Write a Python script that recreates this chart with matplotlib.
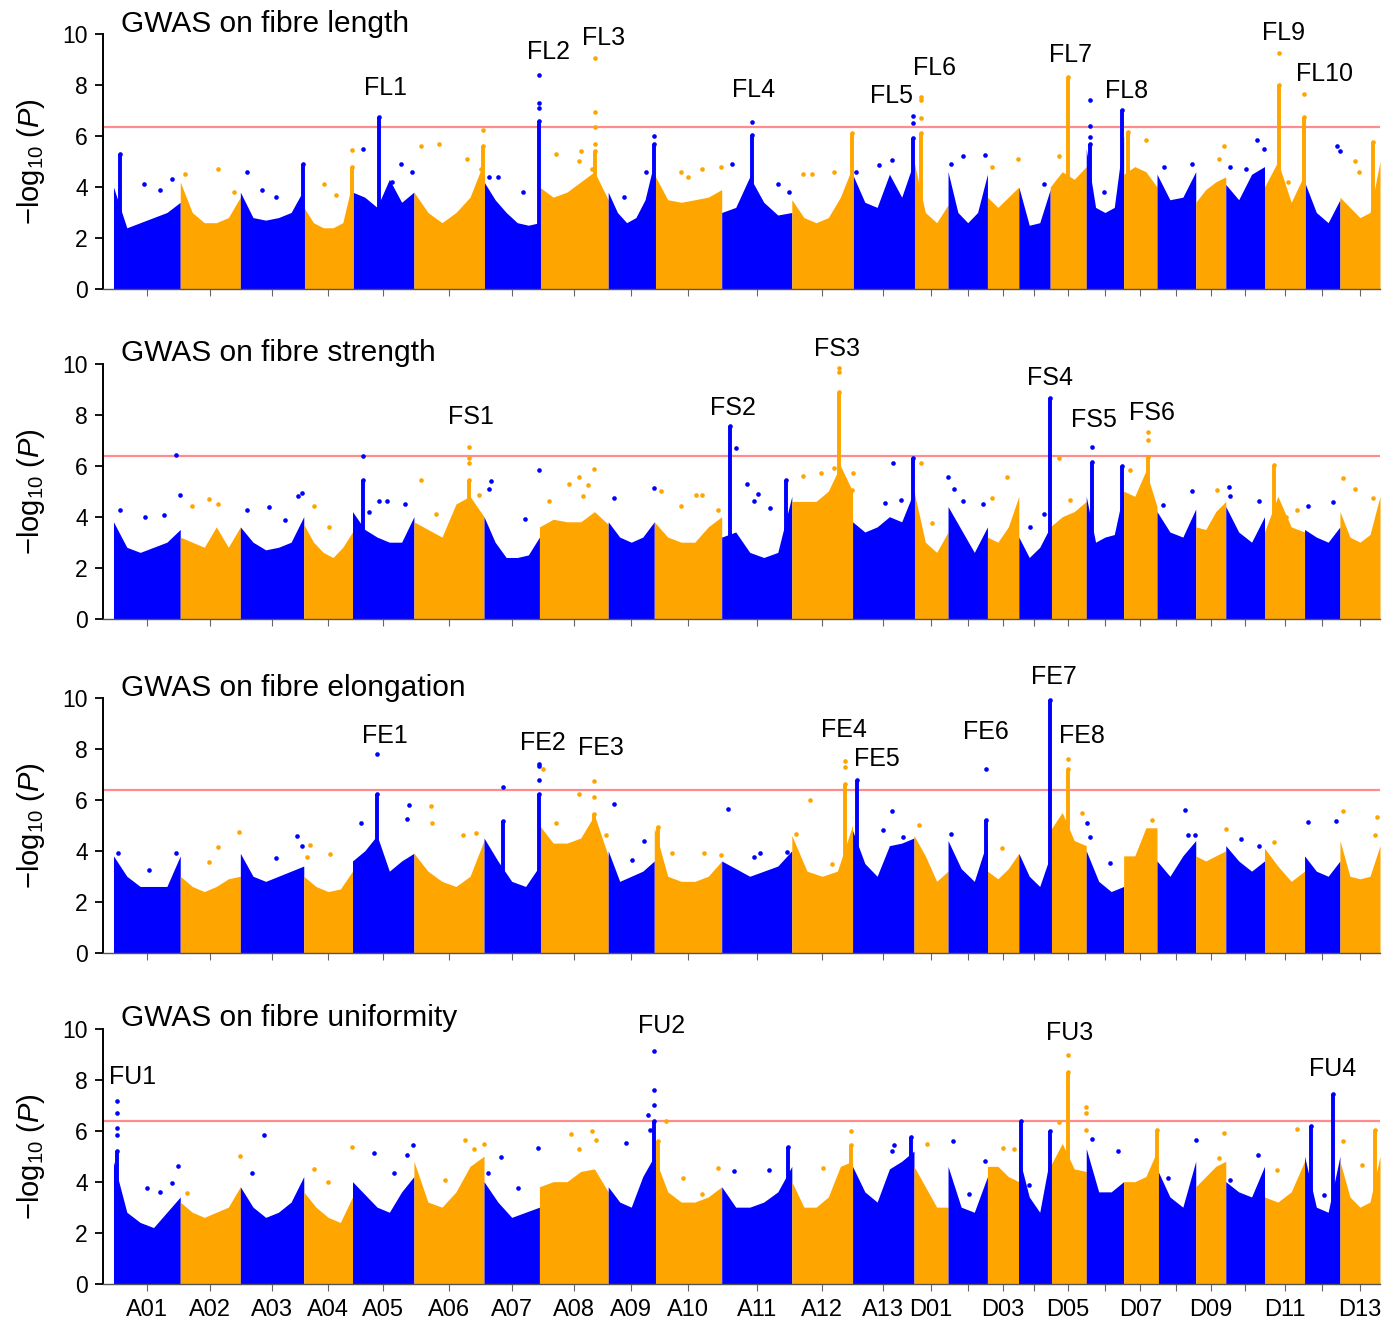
import numpy as np
import matplotlib.pyplot as plt

plt.rcParams["font.family"] = ["Liberation Sans", "DejaVu Sans"]
plt.rcParams["mathtext.fontset"] = "custom"
plt.rcParams["mathtext.rm"] = "Liberation Sans"
plt.rcParams["mathtext.it"] = "Liberation Sans:italic"

BLUE = "#0000FF"
ORANGE = "#FFA500"
THRESHOLD = 6.37

CHROMS = ["A01", "A02", "A03", "A04", "A05", "A06", "A07", "A08", "A09", "A10", "A11", "A12", "A13",
          "D01", "D02", "D03", "D04", "D05", "D06", "D07", "D08", "D09", "D10", "D11", "D12", "D13"]
# chromosome length, Mb
CHROM_LEN = [100, 90, 95, 73, 92, 105, 83, 103, 69, 101, 105, 91, 92,
             51, 59, 47, 47, 54, 56, 50, 58, 45, 58, 60, 53, 60]
TICK_LABELS = ["A01", "A02", "A03", "A04", "A05", "A06", "A07", "A08", "A09", "A10", "A11", "A12", "A13",
               "D01", "", "D03", "", "D05", "", "D07", "", "D09", "", "D11", "", "D13"]

# ---- fibre length ----
# upper edge of the dense SNP cloud, sampled evenly along each chromosome
FL_ENV = [[4.0, 2.4, 2.6, 2.8, 3.0, 3.4], [4.2, 3.0, 2.6, 2.6, 2.8, 3.6], [3.8, 2.8, 2.7, 2.8, 3.0, 3.9],
          [3.2, 2.6, 2.4, 2.4, 2.6, 4.2], [3.8, 3.6, 3.2, 4.3, 3.4, 3.8], [3.8, 3.0, 2.6, 3.0, 3.6, 5.0],
          [4.2, 3.5, 3.0, 2.6, 2.5, 2.6], [4.0, 3.6, 3.8, 4.2, 4.6, 3.5], [3.8, 3.0, 2.6, 2.8, 3.5, 5.0],
          [4.5, 3.5, 3.4, 3.5, 3.6, 3.9], [3.0, 3.2, 4.4, 3.4, 2.9, 3.0], [3.5, 2.8, 2.6, 2.8, 3.6, 4.8],
          [4.5, 3.4, 3.2, 4.5, 3.6, 5.0],
          [5.0, 3.0, 2.6, 3.3], [4.6, 3.0, 2.6, 3.0, 4.5], [3.6, 3.2, 3.6, 4.0], [4.0, 2.5, 2.6, 3.9],
          [4.0, 4.6, 4.3, 4.8], [5.5, 3.2, 3.0, 3.2, 6.0], [4.5, 4.8, 4.6, 4.0], [4.5, 3.5, 3.6, 4.6],
          [3.4, 3.9, 4.2, 4.4], [4.1, 3.5, 4.5, 4.8], [4.0, 5.0, 3.4, 4.5], [4.2, 3.0, 2.6, 3.5],
          [3.6, 3.2, 2.8, 3.0, 5.0]]
# (chromosome, position Mb, column top)
FL_SPIKES = [("A01", 10, 5.3), ("A03", 94, 4.9), ("A04", 72, 4.8), ("A05", 39, 6.73), ("A06", 104, 5.6),
             ("A07", 82, 6.6), ("A08", 83, 5.4), ("A09", 69, 5.7), ("A11", 45, 6.03), ("A12", 90, 6.1),
             ("A13", 91, 5.94), ("D01", 10, 6.1), ("D05", 27, 8.33), ("D06", 6, 5.7), ("D06", 53, 7.0),
             ("D07", 7, 6.16), ("D11", 22, 8.0), ("D11", 59, 6.75), ("D13", 49, 5.77)]
FL_POINTS = [("A01", 45, 4.1), ("A01", 70, 3.9), ("A01", 87, 4.3), ("A02", 7, 4.5), ("A02", 57, 4.7),
             ("A02", 80, 3.8), ("A03", 10, 4.6), ("A03", 33, 3.9), ("A03", 53, 3.6), ("A04", 31, 4.1),
             ("A04", 48, 3.7), ("A04", 72, 5.45), ("A05", 15, 5.5), ("A05", 59, 4.2), ("A05", 72, 4.9),
             ("A05", 89, 4.6), ("A06", 10, 5.6), ("A06", 37, 5.7), ("A06", 80, 5.1), ("A06", 100, 4.7),
             ("A06", 104, 6.25), ("A07", 8, 4.4), ("A07", 21, 4.4), ("A07", 58, 3.8), ("A07", 82, 7.1),
             ("A07", 82, 7.3), ("A07", 82, 8.39), ("A08", 25, 5.3), ("A08", 59, 5.0), ("A08", 62, 5.4),
             ("A08", 79, 4.7), ("A08", 83, 5.7), ("A08", 83, 6.36), ("A08", 83, 6.95), ("A08", 83, 9.05),
             ("A09", 23, 3.6), ("A09", 57, 4.6), ("A09", 69, 6.0), ("A10", 40, 4.6), ("A10", 50, 4.4),
             ("A10", 72, 4.7), ("A10", 100, 4.8), ("A11", 15, 4.9), ("A11", 45, 6.56), ("A11", 85, 4.1),
             ("A11", 101, 3.8), ("A12", 17, 4.5), ("A12", 30, 4.5), ("A12", 63, 4.6), ("A13", 5, 4.6),
             ("A13", 39, 4.85), ("A13", 59, 5.05), ("A13", 91, 6.52), ("A13", 91, 6.78), ("D01", 10, 6.69),
             ("D01", 10, 7.43), ("D01", 10, 7.54), ("D02", 5, 4.9), ("D02", 22, 5.2), ("D02", 55, 5.25),
             ("D03", 7, 4.8), ("D03", 46, 5.1), ("D04", 37, 4.1), ("D05", 13, 5.2), ("D06", 6, 5.97),
             ("D06", 6, 6.39), ("D06", 6, 7.43), ("D06", 26, 3.8), ("D07", 33, 5.85), ("D08", 10, 4.8),
             ("D08", 53, 4.9), ("D09", 35, 5.1), ("D09", 42, 5.6), ("D10", 7, 4.8), ("D10", 30, 4.7),
             ("D10", 47, 5.85), ("D10", 58, 5.5), ("D11", 22, 9.27), ("D11", 35, 4.2), ("D11", 59, 7.63),
             ("D12", 49, 5.6), ("D12", 53, 5.4), ("D13", 22, 5.0), ("D13", 29, 4.6)]
FL_LABELS = ["FL1", "FL2", "FL3", "FL4", "FL5", "FL6", "FL7", "FL8", "FL9", "FL10"]
FL_LABEL_X = [407, 652, 734, 959, 1165, 1229, 1433, 1517, 1753, 1814]
FL_LABEL_Y = [7.9, 9.3, 9.85, 7.8, 7.57, 8.67, 9.18, 7.76, 10.04, 8.43]

# ---- fibre strength ----
FS_ENV = [[3.8, 2.8, 2.6, 2.8, 3.0, 3.5], [3.2, 3.0, 2.8, 3.6, 2.8, 3.6], [3.6, 3.0, 2.7, 2.8, 3.0, 4.0],
          [3.7, 3.0, 2.6, 2.4, 2.8, 3.4], [4.2, 3.5, 3.2, 3.0, 3.0, 4.0], [3.8, 3.5, 3.2, 4.5, 4.8, 4.0],
          [4.0, 3.0, 2.4, 2.4, 2.5, 3.2], [3.6, 3.9, 3.8, 3.8, 4.2, 3.7], [3.8, 3.2, 3.0, 3.2, 3.8],
          [3.8, 3.2, 3.0, 3.0, 3.6, 4.0], [3.2, 3.4, 2.6, 2.4, 2.6, 4.8], [4.6, 4.6, 4.6, 5.0, 6.0, 5.0],
          [3.8, 3.4, 3.6, 4.0, 3.8, 5.0],
          [5.0, 3.0, 2.6, 3.4], [4.4, 3.5, 2.6, 3.6], [3.2, 3.0, 3.6, 4.8], [3.2, 2.4, 2.8, 3.6],
          [3.6, 4.0, 4.2, 4.6], [4.8, 3.0, 3.2, 3.3, 5.0], [5.0, 4.8, 5.8, 4.4], [4.2, 3.4, 3.2, 4.3],
          [3.6, 3.5, 4.2, 4.6], [4.4, 3.4, 3.0, 4.0], [3.4, 4.8, 3.6, 3.4], [3.5, 3.2, 3.0, 3.6],
          [4.2, 3.2, 3.0, 3.3, 4.8]]
FS_SPIKES = [("A05", 15, 5.45), ("A06", 82, 5.45), ("A11", 13, 7.54), ("A11", 96, 5.45), ("A12", 70, 8.9),
             ("A13", 91, 6.3), ("D04", 47, 8.65), ("D06", 8, 6.16), ("D06", 53, 5.97), ("D07", 37, 6.36),
             ("D11", 14, 6.03)]
FS_POINTS = [("A01", 10, 4.27), ("A01", 47, 4.0), ("A01", 75, 4.07), ("A01", 93, 6.43), ("A01", 99, 4.86),
             ("A02", 17, 4.4), ("A02", 43, 4.7), ("A02", 57, 4.5), ("A03", 10, 4.27), ("A03", 43, 4.37),
             ("A03", 67, 3.87), ("A03", 87, 4.8), ("A03", 93, 4.92), ("A04", 15, 4.4), ("A04", 38, 3.6),
             ("A05", 15, 6.39), ("A05", 25, 4.2), ("A05", 39, 4.6), ("A05", 52, 4.6), ("A05", 79, 4.5),
             ("A06", 10, 5.45), ("A06", 33, 4.1), ("A06", 82, 6.1), ("A06", 82, 6.3), ("A06", 82, 6.73),
             ("A06", 97, 4.86), ("A07", 8, 5.1), ("A07", 11, 5.4), ("A07", 61, 3.9), ("A07", 82, 5.84),
             ("A08", 15, 4.6), ("A08", 45, 5.3), ("A08", 59, 5.57), ("A08", 65, 4.8), ("A08", 72, 5.25),
             ("A08", 82, 5.86), ("A09", 8, 4.72), ("A09", 69, 5.12), ("A10", 10, 5.0), ("A10", 40, 4.4),
             ("A10", 63, 4.86), ("A10", 72, 4.86), ("A10", 95, 4.27), ("A11", 21, 6.7), ("A11", 38, 5.3),
             ("A11", 48, 4.6), ("A11", 55, 4.9), ("A11", 73, 4.36), ("A12", 17, 5.6), ("A12", 43, 5.7),
             ("A12", 63, 5.9), ("A12", 70, 9.66), ("A12", 70, 9.83), ("A12", 90, 5.05), ("A12", 91, 5.7),
             ("A13", 49, 4.55), ("A13", 60, 6.12), ("A13", 72, 4.66), ("D01", 10, 6.1), ("D01", 27, 3.75),
             ("D02", 0, 5.57), ("D02", 9, 5.1), ("D02", 22, 4.6), ("D02", 52, 4.5), ("D03", 7, 4.72),
             ("D03", 30, 5.57), ("D04", 17, 3.6), ("D04", 37, 4.1), ("D05", 13, 6.3), ("D05", 30, 4.66),
             ("D05", 47, 4.3), ("D06", 8, 6.75), ("D07", 10, 5.84), ("D07", 37, 7.0), ("D07", 37, 7.34),
             ("D08", 9, 4.46), ("D08", 53, 4.99), ("D09", 32, 5.05), ("D10", 5, 5.16), ("D10", 7, 4.8),
             ("D10", 50, 4.6), ("D11", 32, 4.0), ("D11", 49, 4.27), ("D12", 5, 4.4), ("D12", 42, 4.57),
             ("D13", 4, 5.5), ("D13", 22, 5.08), ("D13", 50, 4.72)]
FS_LABELS = ["FS1", "FS2", "FS3", "FS4", "FS5", "FS6"]
FS_LABEL_X = [535, 928, 1084, 1403, 1469, 1556]
FS_LABEL_Y = [7.92, 8.27, 10.59, 9.45, 7.8, 8.08]

# ---- fibre elongation ----
FE_ENV = [[3.8, 3.0, 2.6, 2.6, 2.6, 3.8], [3.0, 2.6, 2.4, 2.6, 2.9, 3.0], [3.9, 3.0, 2.8, 3.0, 3.2, 3.4],
          [3.0, 2.6, 2.4, 2.5, 3.2], [3.6, 4.0, 4.6, 3.2, 3.6, 3.9], [3.9, 3.2, 2.8, 2.6, 3.0, 4.4],
          [4.5, 3.6, 2.8, 2.6, 3.4], [5.0, 4.3, 4.3, 4.5, 5.4, 3.8], [4.0, 2.8, 3.0, 3.2, 3.6],
          [4.9, 3.0, 2.8, 2.8, 3.0, 3.6], [3.6, 3.3, 3.0, 3.2, 3.4, 4.0], [4.6, 3.2, 3.0, 3.2, 5.0],
          [4.8, 3.5, 3.0, 4.2, 4.3, 4.5],
          [4.6, 3.8, 2.8, 3.2], [4.4, 3.3, 2.8, 4.4], [3.2, 2.9, 3.3, 3.9], [3.9, 3.0, 2.6, 3.8],
          [4.8, 5.5, 4.4, 4.2], [4.0, 2.8, 2.4, 2.6], [3.8, 3.8, 4.9, 4.9], [3.6, 3.0, 3.8, 4.4],
          [3.8, 3.6, 3.8, 4.0], [4.2, 3.6, 3.2, 3.6], [4.1, 3.4, 2.8, 3.2], [3.8, 3.2, 3.0, 3.6],
          [4.4, 3.0, 2.9, 3.0, 4.2]]
FE_SPIKES = [("A05", 37, 6.24), ("A07", 28, 5.17), ("A07", 83, 6.24), ("A08", 82, 5.46), ("A10", 5, 4.93),
             ("A12", 80, 6.63), ("A13", 7, 6.76), ("D02", 57, 5.22), ("D04", 47, 9.9), ("D05", 27, 7.22)]
FE_POINTS = [("A01", 7, 3.9), ("A01", 53, 3.26), ("A01", 93, 3.9), ("A02", 43, 3.56), ("A02", 57, 4.15),
             ("A02", 88, 4.74), ("A03", 53, 3.7), ("A03", 85, 4.57), ("A03", 93, 4.2), ("A04", 5, 3.76),
             ("A04", 10, 4.24), ("A04", 39, 3.86), ("A05", 12, 5.1), ("A05", 37, 7.81), ("A05", 82, 5.26),
             ("A05", 85, 5.8), ("A06", 25, 5.76), ("A06", 27, 5.1), ("A06", 73, 4.6), ("A06", 93, 4.7),
             ("A07", 28, 6.5), ("A07", 83, 6.76), ("A07", 83, 7.31), ("A07", 83, 7.42), ("A08", 5, 7.22),
             ("A08", 25, 5.07), ("A08", 59, 6.24), ("A08", 82, 6.1), ("A08", 82, 6.74), ("A08", 99, 4.6),
             ("A09", 8, 5.82), ("A09", 36, 3.65), ("A09", 53, 4.39), ("A10", 27, 3.9), ("A10", 75, 3.9),
             ("A10", 100, 3.82), ("A11", 9, 5.64), ("A11", 48, 3.76), ("A11", 58, 3.9), ("A11", 98, 3.96),
             ("A12", 7, 4.67), ("A12", 27, 5.98), ("A12", 60, 3.5), ("A12", 80, 7.28), ("A12", 80, 7.52),
             ("A13", 45, 4.8), ("A13", 59, 5.56), ("A13", 75, 4.54), ("D01", 7, 5.0), ("D02", 4, 4.65),
             ("D02", 57, 7.19), ("D03", 22, 4.09), ("D05", 13, 5.13), ("D05", 27, 7.6), ("D05", 47, 5.48),
             ("D06", 1, 5.07), ("D06", 6, 4.54), ("D06", 36, 3.52), ("D07", 43, 5.22), ("D08", 42, 5.59),
             ("D08", 47, 4.6), ("D08", 57, 4.6), ("D09", 45, 4.87), ("D10", 23, 4.48), ("D10", 50, 4.2),
             ("D11", 14, 4.35), ("D12", 5, 5.13), ("D12", 47, 5.17), ("D13", 5, 5.56), ("D13", 52, 4.6),
             ("D13", 56, 5.33)]
FE_LABELS = ["FE1", "FE2", "FE3", "FE4", "FE5", "FE6", "FE7", "FE8"]
FE_LABEL_X = [407, 643, 730, 1094, 1144, 1307, 1408, 1450]
FE_LABEL_Y = [8.5, 8.24, 8.04, 8.75, 7.6, 8.67, 10.82, 8.5]

# ---- fibre uniformity ----
FU_ENV = [[4.8, 2.8, 2.4, 2.2, 2.8, 3.4], [3.2, 2.8, 2.6, 2.8, 3.0, 3.8], [3.8, 3.0, 2.6, 2.8, 3.2, 4.2],
          [3.6, 3.0, 2.6, 2.4, 3.4], [4.0, 3.5, 3.0, 2.8, 3.6, 4.2], [4.8, 3.2, 3.0, 3.6, 4.6, 5.0],
          [4.0, 3.2, 2.6, 2.8, 3.0], [3.8, 4.0, 4.0, 4.4, 4.5, 3.6], [3.8, 3.2, 3.0, 4.2, 5.0],
          [5.0, 3.6, 3.2, 3.2, 3.4, 3.8], [3.8, 3.0, 3.0, 3.2, 3.6, 4.6], [4.0, 3.0, 3.0, 3.4, 4.6, 4.8],
          [4.6, 3.6, 3.2, 4.5, 4.8, 5.2],
          [4.6, 3.8, 3.0, 3.0], [4.6, 3.0, 2.8, 4.2], [4.6, 4.6, 4.2, 4.0], [5.0, 3.4, 2.8, 5.0],
          [4.6, 5.5, 4.5, 4.4], [5.3, 3.6, 3.6, 4.0], [4.0, 4.0, 4.2, 5.2], [4.5, 3.4, 3.0, 4.8],
          [3.8, 4.2, 4.6, 4.8], [4.0, 3.6, 3.4, 4.6], [3.4, 3.2, 3.6, 4.8], [5.0, 3.0, 2.8, 5.0],
          [4.8, 3.4, 3.0, 3.2, 5.0]]
FU_SPIKES = [("A01", 5, 5.2), ("A09", 69, 6.36), ("A10", 5, 5.58), ("A11", 99, 5.34), ("A12", 89, 5.44),
             ("A13", 87, 5.77), ("D04", 3, 6.36), ("D04", 47, 5.97), ("D05", 27, 8.3), ("D07", 50, 6.03),
             ("D12", 9, 6.19), ("D12", 42, 7.43), ("D13", 52, 6.03)]
FU_POINTS = [("A01", 5, 5.84), ("A01", 5, 6.1), ("A01", 5, 6.69), ("A01", 5, 7.17), ("A01", 50, 3.77),
             ("A01", 70, 3.6), ("A01", 87, 3.94), ("A01", 97, 4.6), ("A02", 10, 3.55), ("A02", 90, 4.99),
             ("A03", 17, 4.33), ("A03", 35, 5.81), ("A04", 15, 4.5), ("A04", 37, 3.98), ("A04", 72, 5.35),
             ("A05", 32, 5.12), ("A05", 62, 4.33), ("A05", 82, 5.05), ("A05", 91, 5.44), ("A06", 47, 4.07),
             ("A06", 77, 5.64), ("A06", 90, 5.29), ("A06", 105, 5.47), ("A07", 6, 4.33), ("A07", 25, 4.95),
             ("A07", 51, 3.77), ("A07", 81, 5.31), ("A08", 47, 5.86), ("A08", 59, 5.29), ("A08", 79, 5.97),
             ("A08", 85, 5.64), ("A09", 26, 5.51), ("A09", 59, 6.62), ("A09", 63, 6.03), ("A09", 69, 7.0),
             ("A09", 69, 7.6), ("A09", 69, 9.14), ("A10", 17, 6.39), ("A10", 43, 4.13), ("A10", 72, 3.5),
             ("A10", 95, 4.53), ("A11", 18, 4.4), ("A11", 71, 4.46), ("A12", 47, 4.53), ("A12", 89, 5.97),
             ("A13", 59, 5.21), ("A13", 62, 5.44), ("D01", 20, 5.47), ("D02", 7, 5.58), ("D02", 32, 3.5),
             ("D02", 55, 4.82), ("D03", 23, 5.31), ("D03", 40, 5.29), ("D04", 15, 3.87), ("D05", 13, 6.32),
             ("D05", 27, 8.98), ("D05", 54, 6.91), ("D05", 54, 6.69), ("D05", 54, 6.03), ("D06", 9, 5.68),
             ("D06", 48, 5.21), ("D08", 17, 4.16), ("D08", 58, 5.62), ("D09", 35, 4.92), ("D09", 43, 5.9),
             ("D10", 7, 4.07), ("D10", 49, 5.03), ("D11", 19, 4.46), ("D11", 49, 6.06), ("D12", 29, 3.48),
             ("D13", 4, 5.58), ("D13", 33, 4.66)]
FU_LABELS = ["FU1", "FU2", "FU3", "FU4"]
FU_LABEL_X = [28, 821, 1432, 1826]
FU_LABEL_Y = [8.12, 10.12, 9.84, 8.43]

TITLES = ["GWAS on fibre length", "GWAS on fibre strength",
          "GWAS on fibre elongation", "GWAS on fibre uniformity"]

offsets = np.concatenate([[0], np.cumsum(CHROM_LEN)[:-1]])
centers = offsets + np.array(CHROM_LEN) / 2
total = sum(CHROM_LEN)


def chrom_colour(i):
    return BLUE if i % 2 == 0 else ORANGE


def draw_panel(ax, env, spikes, points, labels, label_x, label_y, title, show_xlabels):
    # dense cloud of non-significant SNPs
    for i, vals in enumerate(env):
        xs = offsets[i] + np.linspace(0, CHROM_LEN[i], len(vals))
        ax.fill_between(xs, 0, vals, color=chrom_colour(i), lw=0)

    # columns of linked SNPs
    for ch, pos, top in spikes:
        i = CHROMS.index(ch)
        x = offsets[i] + pos
        ax.vlines(x, 0, top, color=chrom_colour(i), lw=2.8)
        ax.scatter([x], [top], s=11, color=chrom_colour(i), lw=0)

    # isolated SNPs
    for ch, pos, y in points:
        i = CHROMS.index(ch)
        ax.scatter([offsets[i] + pos], [y], s=11, color=chrom_colour(i), lw=0)

    ax.axhline(THRESHOLD, color="#FF8C8C", lw=1.6, zorder=0.5)

    for lab, x, y in zip(labels, label_x, label_y):
        ax.text(x, y, lab, ha="center", va="center", fontsize=18, clip_on=False)

    ax.text(11, 10.4, title, ha="left", va="center", fontsize=21.5)

    ax.set_xlim(-15.7, total)
    ax.set_ylim(0, 10)
    ax.set_yticks([0, 2, 4, 6, 8, 10])
    ax.set_xticks(centers)
    ax.set_xticklabels(TICK_LABELS if show_xlabels else [""] * len(CHROMS), fontsize=17)
    ax.tick_params(axis="y", labelsize=16.5, length=6, width=1.3, pad=5)
    ax.tick_params(axis="x", length=5, width=0.8, color="#666666", pad=6)
    ax.spines["top"].set_visible(False)
    ax.spines["right"].set_visible(False)
    ax.spines["left"].set_linewidth(1.4)
    ax.spines["bottom"].set_linewidth(1.0)
    ax.spines["bottom"].set_color("#555555")
    ax.set_ylabel("\u2212log$_{10}$ ($P$)", fontsize=21)
    ax.yaxis.set_label_coords(-0.044, 0.5)


fig = plt.figure(figsize=(14, 13.22), dpi=100)
left = 103 / 1400
width = (1380 - 103) / 1400
panel_bottoms = [0.7814, 0.532, 0.2793, 0.029]
panel_height = 0.1929

panels = [
    (FL_ENV, FL_SPIKES, FL_POINTS, FL_LABELS, FL_LABEL_X, FL_LABEL_Y),
    (FS_ENV, FS_SPIKES, FS_POINTS, FS_LABELS, FS_LABEL_X, FS_LABEL_Y),
    (FE_ENV, FE_SPIKES, FE_POINTS, FE_LABELS, FE_LABEL_X, FE_LABEL_Y),
    (FU_ENV, FU_SPIKES, FU_POINTS, FU_LABELS, FU_LABEL_X, FU_LABEL_Y),
]

for k, (bottom, data) in enumerate(zip(panel_bottoms, panels)):
    ax = fig.add_axes([left, bottom, width, panel_height])
    draw_panel(ax, *data, TITLES[k], show_xlabels=(k == 3))

fig.savefig("out.png", dpi=100)
